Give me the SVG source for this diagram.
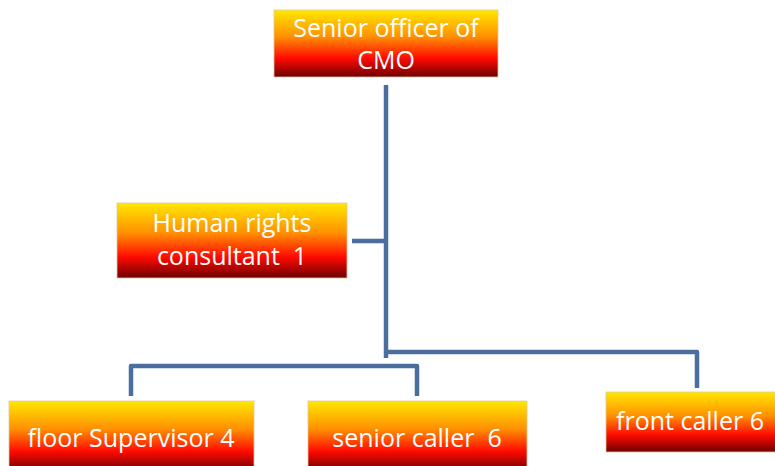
<svg xmlns="http://www.w3.org/2000/svg" width="775" height="466" viewBox="0 0 775 466">
<defs>
<linearGradient id="g" x1="0" y1="0" x2="0" y2="1">
<stop offset="0" stop-color="#FFE800"/>
<stop offset="0.4" stop-color="#FF9000"/>
<stop offset="0.72" stop-color="#FF0A00"/>
<stop offset="1" stop-color="#6E0000"/>
</linearGradient>
</defs>
<style>
.box{fill:url(#g);stroke:#e0c8a0;stroke-width:0.8}
.t{font-family:"Open Sans","Liberation Sans",sans-serif;fill:#ffffff;text-anchor:middle;font-size:25px;white-space:pre}
.c{fill:none;stroke:#4A6E9E;stroke-width:4.5;stroke-linejoin:round}
</style>
<rect width="775" height="466" fill="#ffffff"/>
<g id="connectors">
<path class="c" d="M386 85 V358"/>
<path class="c" d="M352 241 H386"/>
<path class="c" d="M386 352 H697 V388"/>
<path class="c" d="M131 396 V366 H417 V396"/>
</g>
<g id="senior-officer">
<rect class="box" x="274" y="10" width="224" height="67"/>
<text class="t" x="386" y="37">Senior officer of</text>
<text class="t" x="386" y="69">CMO</text>
</g>
<g id="human-rights">
<rect class="box" x="117" y="203" width="230" height="75"/>
<text class="t" x="232" y="232">Human rights</text>
<text class="t" x="232" y="265" xml:space="preserve">consultant  1</text>
</g>
<g id="floor-supervisor">
<rect class="box" x="9" y="401" width="245" height="70"/>
<text class="t" x="131" y="447">floor Supervisor 4</text>
</g>
<g id="senior-caller">
<rect class="box" x="308" y="401" width="219" height="70"/>
<text class="t" x="417" y="447" xml:space="preserve">senior caller  6</text>
</g>
<g id="front-caller">
<rect class="box" x="606" y="392" width="175" height="60"/>
<text class="t" x="690" y="430">front caller 6</text>
</g>
</svg>
